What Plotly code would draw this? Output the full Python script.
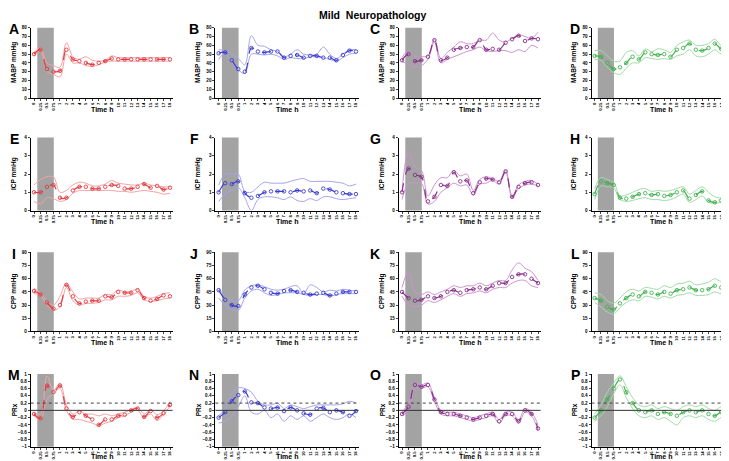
import plotly.graph_objects as go

# ---- data -------------------------------------------------------------------
TIME_LABELS = ["0", "0.25", "0.5", "0.75", "1", "2", "3", "4", "5", "6", "7", "8",
               "9", "10", "11", "12", "13", "14", "15", "16", "17", "18"]
SHADE_START, SHADE_END = 0.5, 3.05   # in category-index units

# MABP
A_MEAN = [50, 55, 33, 30, 31, 55, 44, 42, 40, 38, 40, 42, 45, 44, 44, 44, 44, 44, 44, 44, 44, 44]
A_UP = [52, 57, 40, 37, 35, 63, 47, 44, 47, 43, 42, 43, 48, 46, 46, 46, 46, 46, 46, 46, 46, 46]
A_LO = [48, 54, 30, 27, 24, 50, 40, 40, 37, 36, 38, 41, 42, 42, 42, 42, 42, 42, 42, 42, 42, 42]
B_MEAN = [51, 52, 43, 33, 30, 57, 53, 52, 53, 53, 46, 48, 49, 46, 48, 48, 46, 46, 43, 49, 54, 53]
B_UP = [55, 54, 50, 45, 38, 71, 60, 59, 55, 53, 47, 50, 55, 50, 49, 50, 58, 50, 45, 50, 55, 55]
B_LO = [44, 51, 40, 32, 28, 50, 50, 49, 50, 48, 44, 46, 45, 45, 47, 47, 46, 44, 42, 46, 50, 51]
C_MEAN = [43, 50, 42, 43, 47, 66, 43, 46, 55, 57, 58, 58, 66, 55, 56, 55, 63, 67, 71, 65, 68, 67]
C_UP = [46, 54, 47, 47, 48, 67, 45, 52, 58, 64, 62, 62, 66, 66, 74, 66, 64, 68, 72, 70, 68, 75]
C_LO = [42, 38, 35, 37, 44, 64, 40, 44, 47, 50, 53, 55, 58, 54, 53, 54, 54, 52, 55, 53, 60, 57]
D_MEAN = [48, 47, 40, 33, 35, 40, 47, 44, 52, 50, 49, 50, 47, 55, 57, 62, 55, 54, 57, 62, 56, 57]
D_UP = [54, 54, 48, 42, 42, 52, 54, 48, 56, 53, 56, 55, 52, 60, 64, 66, 60, 60, 62, 67, 60, 67]
D_LO = [44, 43, 35, 29, 27, 34, 40, 40, 46, 45, 44, 45, 44, 48, 50, 55, 48, 47, 50, 55, 50, 50]

# ICP
E_MEAN = [1.0, 1.0, 1.3, 1.4, 0.7, 0.7, 1.1, 1.3, 1.3, 1.2, 1.2, 1.3, 1.4, 1.35, 1.2, 1.2, 1.3, 1.45, 1.25, 1.35, 1.15, 1.25]
E_UP = [1.4, 1.7, 1.85, 1.85, 1.0, 1.1, 1.4, 1.55, 1.5, 1.35, 1.35, 1.45, 1.65, 1.5, 1.45, 1.4, 1.4, 1.5, 1.4, 1.35, 1.3, 1.3]
E_LO = [0.5, 0.35, 0.7, 0.65, 0.5, 0.6, 0.95, 1.1, 1.1, 1.1, 1.1, 1.1, 1.1, 1.05, 1.05, 1.0, 1.05, 1.1, 1.05, 1.0, 0.9, 0.95]
F_MEAN = [1.0, 1.5, 1.45, 1.6, 0.95, 0.7, 0.8, 1.0, 1.05, 1.05, 1.05, 1.0, 1.1, 1.05, 1.1, 0.95, 1.2, 1.15, 1.0, 0.95, 0.9, 0.9]
F_UP = [1.4, 2.0, 2.0, 2.0, 1.05, 1.0, 1.3, 1.55, 1.5, 1.5, 1.5, 1.6, 1.7, 1.75, 1.6, 1.6, 1.6, 1.6, 1.55, 1.5, 1.35, 1.45]
F_LO = [0.5, 0.9, 1.1, 1.25, 0.7, 0.0, 0.6, 0.75, 0.75, 0.7, 0.6, 0.75, 0.55, 0.5, 0.65, 0.55, 0.75, 0.75, 0.65, 0.6, 0.65, 0.7]
G_MEAN = [1.0, 2.3, 1.95, 1.85, 0.5, 0.75, 1.4, 1.35, 2.1, 1.6, 1.65, 0.95, 1.55, 1.75, 1.7, 1.55, 2.15, 0.75, 1.3, 1.5, 1.55, 1.4]
G_UP = [1.1, 3.2, 2.4, 2.2, 0.8, 1.4, 1.8, 1.8, 2.2, 1.9, 2.0, 1.1, 1.7, 1.85, 1.75, 1.6, 2.2, 0.8, 1.4, 1.6, 1.65, 1.45]
G_LO = [0.6, 1.5, 1.5, 1.5, 0.35, 0.5, 1.0, 1.25, 1.5, 1.35, 1.4, 0.85, 1.45, 1.5, 1.65, 1.45, 2.1, 0.7, 1.2, 1.4, 1.45, 1.35]
H_MEAN = [0.9, 1.6, 1.5, 1.4, 0.7, 0.65, 0.75, 0.9, 0.95, 0.85, 0.9, 0.8, 0.85, 1.0, 1.1, 0.65, 0.85, 1.05, 0.55, 0.45, 0.55, 0.65]
H_UP = [1.2, 1.8, 1.7, 1.55, 0.8, 0.85, 1.0, 1.15, 1.2, 1.05, 1.1, 1.05, 1.1, 1.2, 1.3, 0.9, 1.1, 1.3, 1.0, 0.75, 0.7, 0.8]
H_LO = [0.6, 1.35, 1.3, 1.25, 0.6, 0.5, 0.55, 0.65, 0.7, 0.6, 0.6, 0.55, 0.6, 0.75, 0.9, 0.45, 0.6, 0.8, 0.45, 0.4, 0.45, 0.55]

# CPP
I_MEAN = [46, 42, 33, 26, 30, 53, 40, 32, 34, 35, 35, 40, 39, 45, 44, 44, 47, 38, 35, 37, 41, 40]
I_UP = [49, 44, 35, 30, 40, 55, 45, 37, 38, 38, 38, 42, 42, 47, 45, 46, 48, 40, 38, 40, 43, 44]
I_LO = [43, 41, 30, 24, 28, 50, 35, 30, 32, 32, 33, 36, 36, 40, 40, 41, 44, 36, 34, 35, 37, 38]
J_MEAN = [47, 36, 30, 29, 42, 50, 52, 48, 44, 43, 46, 47, 45, 44, 42, 43, 44, 41, 43, 45, 45, 45]
J_UP = [49, 40, 35, 35, 47, 52, 53, 51, 48, 47, 48, 51, 52, 43, 53, 50, 45, 47, 46, 48, 47, 46]
J_LO = [38, 30, 25, 24, 38, 46, 48, 44, 41, 42, 44, 44, 44, 42, 41, 42, 42, 40, 42, 43, 43, 43]
K_MEAN = [45, 38, 35, 36, 40, 38, 40, 45, 47, 44, 47, 48, 50, 48, 52, 55, 55, 62, 65, 65, 60, 55]
K_UP = [50, 68, 45, 42, 45, 42, 45, 48, 52, 50, 52, 52, 55, 52, 55, 58, 58, 70, 78, 72, 68, 58]
K_LO = [40, 30, 28, 30, 35, 33, 36, 40, 43, 40, 43, 44, 46, 44, 48, 50, 50, 55, 58, 58, 52, 50]
L_MEAN = [38, 35, 28, 25, 32, 38, 42, 40, 45, 44, 42, 45, 43, 47, 48, 50, 47, 47, 48, 52, 50, 57]
L_UP = [44, 42, 35, 32, 38, 45, 48, 46, 50, 49, 48, 52, 50, 54, 55, 57, 53, 54, 56, 60, 57, 63]
L_LO = [33, 28, 22, 20, 27, 33, 36, 35, 40, 39, 37, 40, 38, 41, 42, 44, 41, 41, 42, 45, 43, 48]

# PRx
M_MEAN = [-0.1, -0.22, 0.68, 0.5, 0.68, 0.05, -0.18, -0.05, -0.15, -0.25, -0.4, -0.25, -0.25, -0.15, -0.12, 0.0, 0.05, -0.18, -0.02, -0.2, -0.08, 0.15]
M_UP = [-0.08, -0.1, 0.95, 0.55, 0.75, 0.15, -0.1, -0.02, -0.1, -0.1, -0.15, -0.1, -0.15, -0.1, -0.05, 0.02, 0.08, -0.1, 0.02, -0.12, -0.02, 0.25]
M_LO = [-0.15, -0.25, 0.3, 0.45, 0.6, 0.0, -0.25, -0.25, -0.3, -0.35, -0.42, -0.35, -0.3, -0.2, -0.15, -0.05, 0.0, -0.2, -0.1, -0.28, -0.12, 0.12]
N_MEAN = [-0.2, -0.05, 0.25, 0.42, 0.52, 0.22, 0.2, 0.08, 0.05, 0.08, -0.02, 0.08, 0.0, -0.08, -0.12, 0.05, 0.07, -0.05, 0.0, -0.05, -0.15, -0.02]
N_UP = [-0.15, 0.05, 0.45, 0.62, 0.6, 0.5, 0.25, 0.15, 0.15, 0.2, 0.05, 0.15, 0.1, 0.05, 0.1, 0.15, 0.15, 0.15, 0.15, 0.18, 0.25, 0.2]
N_LO = [-0.35, -0.3, -0.15, 0.1, 0.4, -0.05, -0.1, 0.0, -0.2, -0.1, -0.3, -0.15, -0.25, -0.15, -0.3, -0.2, -0.1, -0.2, -0.25, -0.2, -0.1, -0.2]
O_MEAN = [-0.1, 0.1, 0.7, 0.65, 0.7, 0.3, -0.05, -0.1, -0.1, -0.15, -0.2, -0.25, -0.2, -0.15, -0.1, -0.3, -0.1, -0.1, -0.3, 0.0, -0.1, -0.5]
O_UP = [-0.05, 0.2, 0.75, 0.7, 0.75, 0.35, 0.0, -0.05, -0.05, -0.1, -0.15, -0.2, -0.15, -0.1, -0.05, -0.25, -0.05, -0.05, -0.25, 0.05, -0.05, -0.4]
O_LO = [-0.15, 0.0, 0.6, 0.6, 0.65, 0.25, -0.1, -0.15, -0.15, -0.2, -0.25, -0.3, -0.25, -0.2, -0.15, -0.35, -0.15, -0.15, -0.35, -0.05, -0.15, -0.55]
P_MEAN = [-0.2, 0.0, 0.3, 0.6, 0.85, 0.5, 0.2, 0.0, -0.05, 0.0, -0.1, -0.05, -0.1, -0.15, -0.05, 0.0, -0.05, 0.0, -0.1, -0.15, -0.05, -0.1]
P_UP = [-0.1, 0.15, 0.5, 0.75, 0.95, 0.65, 0.35, 0.15, 0.1, 0.15, 0.05, 0.1, 0.05, 0.0, 0.1, 0.15, 0.1, 0.15, 0.05, 0.0, 0.1, 0.05]
P_LO = [-0.3, -0.15, 0.1, 0.45, 0.7, 0.35, 0.05, -0.15, -0.2, -0.15, -0.25, -0.2, -0.3, -0.4, -0.2, -0.15, -0.2, -0.15, -0.25, -0.3, -0.2, -0.25]

# ---- layout config ----------------------------------------------------------
W, H = 729, 461
COL_PX = [(22.8, 164.6), (207.4, 350.6), (390.8, 532.6), (583.5, 722.0)]
ROW_PX = [(18, 89), (129, 202.7), (245, 325), (368, 441.5)]
TIME_Y = [100.5, 214, 336.5, 451.5]
LETTER_X = [6, 186, 367, 567]
YTITLE_X = [6, 190, 374, 566]

COLORS = [("#e23a3f", "#f3a3a6"), ("#3b3bd0", "#a3a3ef"),
          ("#8a2f8c", "#cc93cd"), ("#3fb24d", "#9fdba5")]
ROWS = [
    ("MABP mmHg", (0, 80), 10, [("A", A_MEAN, A_UP, A_LO), ("B", B_MEAN, B_UP, B_LO),
                                ("C", C_MEAN, C_UP, C_LO), ("D", D_MEAN, D_UP, D_LO)]),
    ("ICP mmHg", (0, 4), 1, [("E", E_MEAN, E_UP, E_LO), ("F", F_MEAN, F_UP, F_LO),
                             ("G", G_MEAN, G_UP, G_LO), ("H", H_MEAN, H_UP, H_LO)]),
    ("CPP mmHg", (0, 90), 15, [("I", I_MEAN, I_UP, I_LO), ("J", J_MEAN, J_UP, J_LO),
                               ("K", K_MEAN, K_UP, K_LO), ("L", L_MEAN, L_UP, L_LO)]),
    ("PRx", (-1, 1), 0.2, [("M", M_MEAN, M_UP, M_LO), ("N", N_MEAN, N_UP, N_LO),
                           ("O", O_MEAN, O_UP, O_LO), ("P", P_MEAN, P_UP, P_LO)]),
]

FONT = "Liberation Sans, Arial, sans-serif"
xs = list(range(len(TIME_LABELS)))

fig = go.Figure()
layout = {}
shapes, annotations = [], []

n = 0
for r, (ytitle, yrange, dtick, panels) in enumerate(ROWS):
    top, bot = ROW_PX[r]
    for c, (letter, mean, up, lo) in enumerate(panels):
        n += 1
        sfx = "" if n == 1 else str(n)
        xa, ya = "x" + sfx, "y" + sfx
        left, right = COL_PX[c]
        dark, light = COLORS[c]

        for ci in (up, lo):
            fig.add_trace(go.Scatter(x=xs, y=ci, mode="lines", xaxis=xa, yaxis=ya,
                                     line=dict(color=light, width=1, shape="spline"),
                                     showlegend=False, hoverinfo="skip"))
        fig.add_trace(go.Scatter(x=xs, y=mean, mode="lines+markers", xaxis=xa, yaxis=ya,
                                 line=dict(color=dark, width=1.2, dash="dash", shape="spline"),
                                 marker=dict(symbol="circle-open", size=3.5, color=dark,
                                             line=dict(width=0.9, color=dark)),
                                 showlegend=False))

        layout["xaxis" + sfx] = dict(
            domain=[left / W, right / W], anchor=ya, range=[-0.5, 21.4],
            tickvals=xs, ticktext=TIME_LABELS, tickangle=-90,
            tickfont=dict(size=4.2, family=FONT, weight="bold", color="black"),
            ticks="outside", ticklen=2, tickwidth=0.8, showline=True,
            linecolor="black", linewidth=1, showgrid=False, zeroline=False)
        layout["yaxis" + sfx] = dict(
            domain=[1 - bot / H, 1 - top / H], anchor=xa, range=list(yrange), dtick=dtick,
            tickfont=dict(size=4.6, family=FONT, weight="bold", color="black"),
            ticks="outside", ticklen=2, tickwidth=0.8, showline=True,
            linecolor="black", linewidth=1, showgrid=False, zeroline=False)

        shapes.append(dict(type="rect", xref=xa, yref=ya + " domain",
                           x0=SHADE_START, x1=SHADE_END, y0=0, y1=1,
                           fillcolor="#a3a3a3", line=dict(width=0), layer="below"))
        if ytitle == "PRx":
            shapes.append(dict(type="line", xref=xa + " domain", yref=ya, x0=0, x1=1,
                               y0=0, y1=0, line=dict(color="#333333", width=1)))
            shapes.append(dict(type="line", xref=xa + " domain", yref=ya, x0=0, x1=1,
                               y0=0.2, y1=0.2, line=dict(color="#444444", width=1, dash="dot")))

        annotations.append(dict(text="<b>%s</b>" % letter, x=LETTER_X[c] / W, y=1 - (top + 1.5) / H,
                                xref="paper", yref="paper", showarrow=False,
                                font=dict(size=14, family=FONT, color="black"),
                                xanchor="center", yanchor="middle"))
        annotations.append(dict(text="<b>%s</b>" % ytitle, x=YTITLE_X[c] / W,
                                y=1 - (top + bot) / 2 / H, xref="paper", yref="paper",
                                textangle=-90, showarrow=False,
                                font=dict(size=6.5, family=FONT, color="black"),
                                xanchor="center", yanchor="middle"))
        annotations.append(dict(text="<b>Time h</b>", x=(left + right) / 2 / W,
                                y=1 - TIME_Y[r] / H, xref="paper", yref="paper",
                                showarrow=False, font=dict(size=7, family=FONT, color="black"),
                                xanchor="center", yanchor="middle"))

annotations.append(dict(text="<b>Mild  Neuropathology</b>", x=364 / W, y=1 - 5.5 / H,
                        xref="paper", yref="paper", showarrow=False,
                        font=dict(size=10.5, family=FONT, color="black"),
                        xanchor="center", yanchor="middle"))

fig.update_layout(**layout)
fig.update_layout(
    width=W, height=H, margin=dict(l=0, r=0, t=0, b=0),
    paper_bgcolor="white", plot_bgcolor="white",
    shapes=shapes, annotations=annotations, showlegend=False,
)
fig.write_html("out.html")
